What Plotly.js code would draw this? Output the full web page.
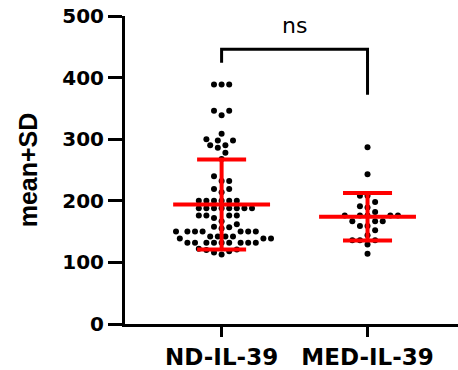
<!DOCTYPE html>
<html>
<head>
<meta charset="utf-8">
<script src="https://cdn.plot.ly/plotly-3.0.1.min.js"></script>
<style>html,body{margin:0;padding:0;background:#fff;}#chart{width:458px;height:370px;}</style>
</head>
<body>
<div id="chart"></div>
<script>
// ---- data ----
const categories = ['ND-IL-39', 'MED-IL-39'];
const ndValues = [
  389, 389, 389,
  346, 346, 339,
  309,
  298, 298, 300,
  290, 290, 286,
  278,
  268,
  240, 232, 232,
  219, 219, 214,
  200, 200, 200, 200, 200, 200,
  188, 188, 188, 188, 188, 188, 188, 188,
  176, 176, 176, 176,
  172, 167, 162,
  158, 155, 157,
  150, 150, 150, 150, 150, 150, 150,
  142, 142, 142, 142,
  139, 139, 139,
  132, 132, 132, 132, 132, 132, 132, 132, 132,
  121, 120, 122, 118, 116, 113
];
const medValues = [
  287, 243, 208, 208, 198, 191, 189, 182,
  176, 176, 176, 176, 176,
  167, 167, 167, 159, 159, 152, 144,
  136, 136, 136, 129, 114
];
const groupValues = [ndValues, medValues];
const means = [194, 174];
const sds = [73, 38.5];
const yTicks = [0, 100, 200, 300, 400, 500];
const sigLabel = 'ns';
const bracketTop = 446;
const bracketLegs = [424, 372];
const labelY = 484;

// ---- layout constants ----
const W = 458, H = 370;
const margin = {l: 125, r: 0, t: 16, b: 46};
const xRange = [-0.662, 1.62];
const yRange = [0, 500];
const pxPerX = (W - margin.l - margin.r) / (xRange[1] - xRange[0]);
const pxPerY = (H - margin.t - margin.b) / (yRange[1] - yRange[0]);

// simple beeswarm: horizontal offsets so dots do not overlap
function swarm(values, center) {
  const D = 6.8;               // min distance between dot centres, px
  const step = 3.8 / pxPerX;   // half of dot spacing, in x units
  const order = values.map((v, i) => i).sort((a, b) => values[a] - values[b]);
  const placed = [];
  const xs = new Array(values.length);
  let flip = false;
  for (const i of order) {
    const v = values[i];
    let chosen = null;
    for (let m = 0; m < 60 && chosen === null; m++) {
      const cands = m === 0 ? [0] : (flip ? [m * step, -m * step] : [-m * step, m * step]);
      for (const off of cands) {
        const ok = placed.every(p => Math.hypot((p.off - off) * pxPerX, (p.v - v) * pxPerY) >= D);
        if (ok) { chosen = off; break; }
      }
    }
    if (chosen !== 0) flip = !flip;
    placed.push({off: chosen, v: v});
    xs[i] = center + chosen;
  }
  return xs;
}

const traces = [];
groupValues.forEach((vals, g) => {
  traces.push({
    type: 'scatter', mode: 'markers',
    x: swarm(vals, g), y: vals,
    marker: {color: '#000000', size: 6},
    hoverinfo: 'y', showlegend: false
  });
});

// mean and SD lines
const halfMean = 0.332, halfCap = 0.168;
const ex = [], ey = [];
means.forEach((m, g) => {
  const lo = m - sds[g], hi = m + sds[g];
  ex.push(g - halfMean, g + halfMean, null, g, g, null, g - halfCap, g + halfCap, null, g - halfCap, g + halfCap, null);
  ey.push(m, m, null, lo, hi, null, lo, lo, null, hi, hi, null);
});
traces.push({
  type: 'scatter', mode: 'lines', x: ex, y: ey,
  line: {color: '#ff0000', width: 4}, hoverinfo: 'skip', showlegend: false
});

// significance bracket
traces.push({
  type: 'scatter', mode: 'lines',
  x: [0, 0, 1, 1], y: [bracketLegs[0], bracketTop, bracketTop, bracketLegs[1]],
  line: {color: '#000000', width: 3}, hoverinfo: 'skip', showlegend: false
});

const layout = {
  width: W, height: H,
  margin: margin,
  paper_bgcolor: '#ffffff', plot_bgcolor: '#ffffff',
  showlegend: false,
  xaxis: {
    range: xRange, tickvals: [0, 1], ticktext: categories,
    showgrid: false, zeroline: false,
    showline: true, linecolor: '#000000', linewidth: 3,
    ticks: 'outside', ticklen: 10, tickwidth: 3, tickcolor: '#000000',
    tickfont: {family: 'DejaVu Sans', size: 23, color: '#000000', weight: 'bold'},
    fixedrange: true
  },
  yaxis: {
    range: yRange, tickvals: yTicks,
    showgrid: false, zeroline: false,
    showline: true, linecolor: '#000000', linewidth: 3,
    ticks: 'outside', ticklen: 14, tickwidth: 3, tickcolor: '#000000',
    tickfont: {family: 'DejaVu Sans', size: 20, color: '#000000', weight: 'bold'},
    title: {text: 'mean+SD', font: {family: 'Liberation Sans', size: 25, color: '#000000', weight: 'bold'}, standoff: 18},
    fixedrange: true
  },
  annotations: [{
    x: 0.5, y: labelY, xref: 'x', yref: 'y', text: sigLabel, showarrow: false,
    font: {family: 'DejaVu Sans', size: 22, color: '#000000'},
    xanchor: 'center', yanchor: 'middle'
  }]
};

Plotly.newPlot('chart', traces, layout, {displayModeBar: false, staticPlot: true});
</script>
</body>
</html>
